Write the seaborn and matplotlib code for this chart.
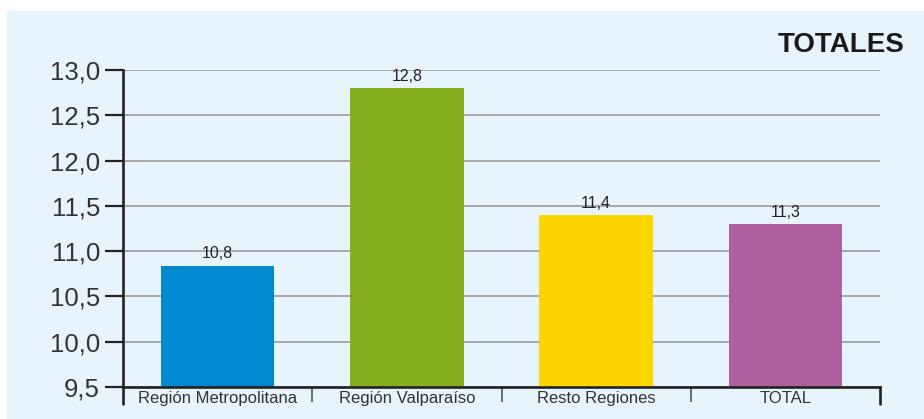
import matplotlib
matplotlib.use('Agg')
import matplotlib.pyplot as plt
import matplotlib.patches as mpatches
from matplotlib.ticker import FuncFormatter, FixedLocator
import pandas as pd
import seaborn as sns

# Données
regiones = ['Región Metropolitana', 'Región Valparaíso', 'Resto Regiones', 'TOTAL']
valores = [10.84, 12.8, 11.4, 11.3]
colores = ['#0089cf', '#86ad1e', '#ffd500', '#ad5fa0']
y_ticks = [9.5, 10.0, 10.5, 11.0, 11.5, 12.0, 12.5, 13.0]

df = pd.DataFrame({'region': regiones, 'valor': valores})

sns.set_style('white')
plt.rcParams['font.family'] = ['Liberation Sans', 'DejaVu Sans']

fig = plt.figure(figsize=(9.24, 4.19), dpi=100, facecolor='white')
# fond bleu clair
fig.patches.append(mpatches.Rectangle((7 / 924, 0), 1, (419 - 11) / 419,
                                      transform=fig.transFigure, color='#e8f4fc', zorder=-10))
ax = fig.add_axes([123 / 924, 32 / 419, (880 - 123) / 924, (387 - 70) / 419])
ax.set_facecolor('none')

sns.barplot(data=df, x='region', y='valor', hue='region', palette=colores,
            width=0.6, saturation=1, legend=False, linewidth=0, ax=ax, zorder=3)

ax.set_ylim(9.5, 13.0)
ax.set_xlim(-0.5, 3.5)
ax.yaxis.set_major_locator(FixedLocator(y_ticks))
ax.yaxis.set_major_formatter(FuncFormatter(lambda v, p: f'{v:.1f}'.replace('.', ',')))
ax.grid(axis='y', color='#9a9a9a', linewidth=1.2, zorder=1)
ax.grid(axis='x', visible=False)

for s in ['top', 'right']:
    ax.spines[s].set_visible(False)
for s in ['left', 'bottom']:
    ax.spines[s].set_color('#222222')
    ax.spines[s].set_linewidth(1.9)
    ax.spines[s].set_zorder(4)

ax.tick_params(axis='y', direction='out', length=13, width=1.6, color='#222222',
               labelsize=18.5, labelcolor='#333333', pad=3.5, left=True)
ax.tick_params(axis='x', which='major', length=0, labelsize=12, labelcolor='#333333', pad=3)
ax.xaxis.set_minor_locator(FixedLocator([0.5, 1.5, 2.5]))
ax.tick_params(axis='x', which='minor', direction='out', length=11, width=1.2,
               color='#555555', bottom=True)
# prolongation des bords
ax.axvline(-0.5, ymin=-0.055, ymax=0, color='#222222', linewidth=1.9, clip_on=False)
ax.axvline(3.5, ymin=-0.055, ymax=0, color='#222222', linewidth=1.9, clip_on=False)
ax.set_xlabel('')
ax.set_ylabel('')

etiquetas = [f'{v:.1f}'.replace('.', ',') for v in valores]
for cont, lab in zip(ax.containers, etiquetas):
    ax.bar_label(cont, labels=[lab], padding=3, fontsize=11.5, color='#222222')

fig.text(905 / 924, (419 - 52) / 419, 'TOTALES', ha='right', va='baseline',
         fontsize=20, fontweight='bold', color='#1a1a1a')

fig.savefig('out.png', dpi=100, facecolor='white')
